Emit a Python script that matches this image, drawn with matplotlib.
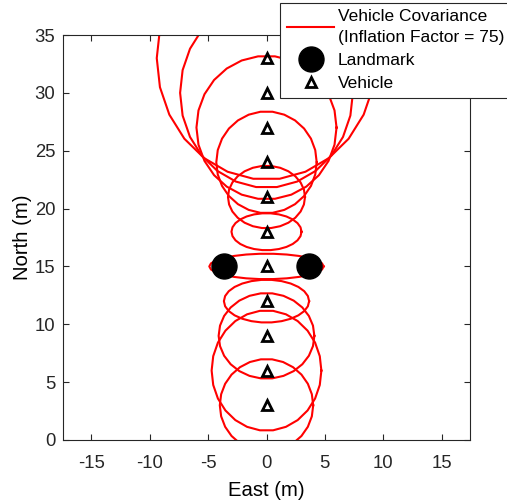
import numpy as np
import matplotlib
matplotlib.use("Agg")
import matplotlib.pyplot as plt
from matplotlib.lines import Line2D

plt.rcParams['font.family'] = ['Liberation Sans', 'DejaVu Sans']
plt.rcParams['axes.unicode_minus'] = False

# --- DATA ---
vehicle_east = [0, 0, 0, 0, 0, 0, 0, 0, 0, 0, 0]
vehicle_north = [3, 6, 9, 12, 15, 18, 21, 24, 27, 30, 33]

# semi-axes of the inflated covariance ellipses (m)
ell_east = [4.0, 4.7, 4.1, 3.65, 4.9, 3.0, 3.3, 4.3, 6.0, 7.4, 9.4]
ell_north = [4.0, 5.2, 3.7, 1.85, 1.1, 1.6, 2.7, 4.4, 6.2, 8.2, 10.5]

landmark_east = [-3.6, 3.6]
landmark_north = [15, 15]

inflation_factor = 75

AX_GREY = '#262626'

fig = plt.figure(figsize=(5.07, 5.0), dpi=100)
ax = fig.add_axes([63 / 507, 60 / 500, 407 / 507, 405 / 500])

# --- covariance ellipses (coarse polygons like the original) ---
t = np.linspace(0, 2 * np.pi, 27)
for i in range(len(vehicle_north)):
    ex = vehicle_east[i] + ell_east[i] * np.cos(t)
    ey = vehicle_north[i] + ell_north[i] * np.sin(t)
    ax.plot(ex, ey, color='#ff0000', lw=1.5, zorder=2, clip_on=True)

ax.plot(landmark_east, landmark_north, 'o', color='k', markersize=18,
        zorder=3, linestyle='none')
ax.plot(vehicle_east, vehicle_north, '^', markerfacecolor='none',
        markeredgecolor='k', markeredgewidth=2, markersize=7,
        linestyle='none', zorder=4)

# --- formatting ---
ax.set_xlim(-17.43, 17.43)
ax.set_ylim(0, 35)
ax.set_xticks([-15, -10, -5, 0, 5, 10, 15])
ax.set_yticks([0, 5, 10, 15, 20, 25, 30, 35])
ax.tick_params(direction='in', top=True, right=True, length=4,
               colors=AX_GREY, labelsize=13.3, width=0.8)
ax.tick_params(axis='x', pad=10.5)
ax.tick_params(axis='y', pad=5.5)
for s in ax.spines.values():
    s.set_color(AX_GREY)
    s.set_linewidth(0.8)
ax.set_xlabel('East (m)', fontsize=14.6, color='k', labelpad=6.5)
ax.set_ylabel('North (m)', fontsize=14.6, color='k', labelpad=2)

handles = [
    Line2D([], [], color='#ff0000', lw=1.5),
    Line2D([], [], marker='o', color='k', markersize=18, linestyle='none'),
    Line2D([], [], marker='^', markerfacecolor='none', markeredgecolor='k',
           markeredgewidth=2, markersize=7, linestyle='none'),
]
labels = [f'Vehicle Covariance\n(Inflation Factor = {inflation_factor})',
          'Landmark', 'Vehicle']
# legend runs past the right edge of the figure, as in the original
leg = fig.legend(handles, labels, loc='upper right',
                 bbox_to_anchor=(511 / 507, 995 / 1000),
                 bbox_transform=fig.transFigure, fontsize=12.5,
                 frameon=True, fancybox=False, framealpha=1,
                 edgecolor=AX_GREY, handlelength=2.7, handletextpad=0.2,
                 labelspacing=0.45, borderpad=0.4, borderaxespad=0)
leg.get_frame().set_linewidth(0.8)
leg.get_texts()[0].set_linespacing(1.45)

fig.savefig('out.png', dpi=100)
